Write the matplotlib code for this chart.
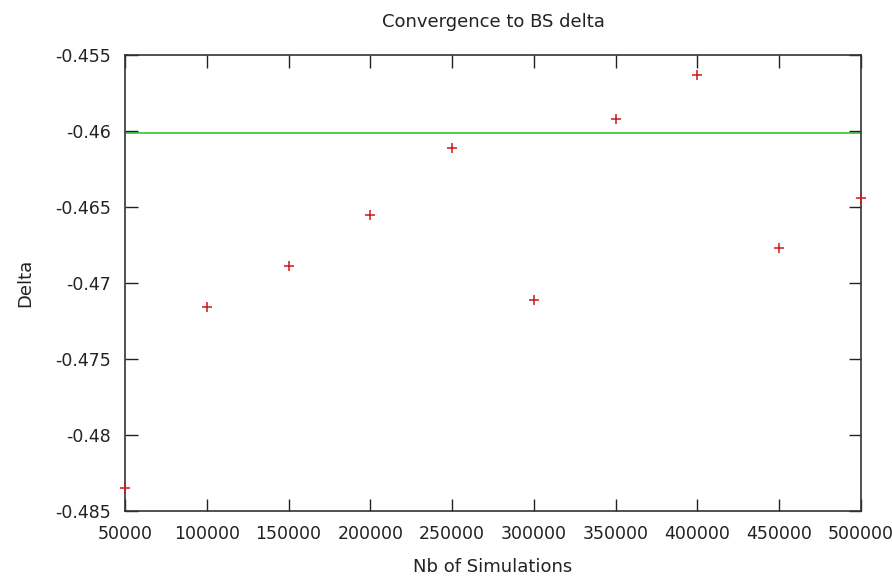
import numpy as np
import matplotlib
matplotlib.use("Agg")
import matplotlib.pyplot as plt
from matplotlib.ticker import FuncFormatter

plt.rcParams["font.family"] = ["DejaVu Sans"]

# Monte Carlo delta estimates vs number of simulations
nb_simulations = [50000, 100000, 150000, 200000, 250000, 300000, 350000, 400000, 450000, 500000]
delta_mc = [-0.4835, -0.4716, -0.4689, -0.4655, -0.4611, -0.4711, -0.4592, -0.4563, -0.4677, -0.4644]
bs_delta = -0.46015

x_ticks = [50000, 100000, 150000, 200000, 250000, 300000, 350000, 400000, 450000, 500000]
y_ticks = [-0.485, -0.48, -0.475, -0.47, -0.465, -0.46, -0.455]

fig = plt.figure(figsize=(8.92, 5.84), dpi=100)
ax = fig.add_axes([125 / 892, 73 / 584, 736 / 892, 456 / 584])

ax.axhline(bs_delta, color="#3ccf3c", linewidth=1.3, zorder=1)
ax.plot(nb_simulations, delta_mc, linestyle="none", marker="+", color="#d01818",
        markersize=7, markeredgewidth=1.1, clip_on=False, zorder=3)

ax.set_xlim(50000, 500000)
ax.set_ylim(-0.485, -0.455)
ax.set_xticks(x_ticks)
ax.set_yticks(y_ticks)
ax.yaxis.set_major_formatter(FuncFormatter(lambda v, p: "%g" % v))
ax.xaxis.set_major_formatter(FuncFormatter(lambda v, p: "%d" % v))

ax.tick_params(direction="in", length=9, width=1, top=True, right=True,
               labelsize=12.5, colors="#222222")
ax.tick_params(axis="x", pad=10)
ax.tick_params(axis="y", pad=10)
for s in ax.spines.values():
    s.set_color("#333333")
    s.set_linewidth(1.2)

ax.set_xlabel("Nb of Simulations", fontsize=13, color="#222222", labelpad=11)
ax.set_ylabel("Delta", fontsize=13, color="#222222", labelpad=15)
ax.set_title("Convergence to BS delta", fontsize=13, color="#222222", pad=20)

fig.savefig("out.png", dpi=100)
